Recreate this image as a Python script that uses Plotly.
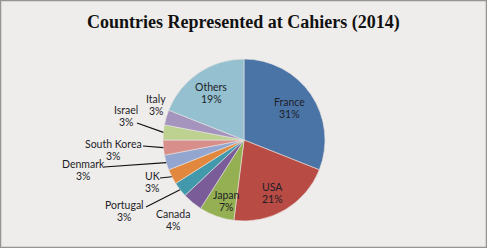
import math
import plotly.graph_objects as go

countries = ["France", "USA", "Japan", "Canada", "Portugal", "UK", "Denmark",
             "South Korea", "Israel", "Italy", "Others"]
shares = [31, 21, 7, 4, 3, 3, 3, 3, 3, 3, 19]
colors = ["#4A74A6", "#B84B44", "#94B052", "#7A5D98", "#4399AC", "#E2883E",
          "#93A6D0", "#D88E8B", "#BDD291", "#A594BD", "#94C0CF"]

W, H = 487, 248
CX, CY, R = 244, 140, 81

# label placement (pixel): (x, y of first line, leader start or None)
label_pos = {
    "France": (289, 102, None),
    "USA": (272, 187, None),
    "Japan": (226, 195, None),
    "Canada": (173, 214, None),
    "Portugal": (125, 205, (146, 207)),
    "UK": (152, 176, (160, 178)),
    "Denmark": (83, 164, (104, 167)),
    "South Korea": (113, 144, (143, 146)),
    "Israel": (126, 110, (137, 123)),
    "Italy": (156, 99, None),
    "Others": (211, 87, None),
}
LINE_GAP = 12

fig = go.Figure(go.Pie(
    labels=countries, values=shares, sort=False, direction="clockwise",
    rotation=0, textinfo="none", hoverinfo="label+percent",
    marker=dict(colors=colors, line=dict(color="#E8E4E0", width=0.6)),
    domain=dict(x=[(CX - R) / W, (CX + R) / W],
                y=[1 - (CY + R) / H, 1 - (CY - R) / H]),
    showlegend=False,
))

font = dict(family="Lato, Open Sans, sans-serif", size=10.5, color="#1E1E28")
total = sum(shares)
cum = 0
annotations = []
shapes = []
for name, v in zip(countries, shares):
    mid = (cum + v / 2) / total * 2 * math.pi
    cum += v
    lx, ly, lead = label_pos[name]
    pct = f"{round(v / total * 100)}%"
    for i, line in enumerate([name, pct]):
        annotations.append(dict(
            x=lx / W, y=1 - (ly + i * LINE_GAP) / H, xref="paper", yref="paper",
            text=line, showarrow=False, font=font, borderpad=0,
            xanchor="center", yanchor="middle",
        ))
    if lead:
        ex = CX + R * math.sin(mid)
        ey = CY - R * math.cos(mid)
        shapes.append(dict(type="line", xref="paper", yref="paper",
                           x0=lead[0] / W, y0=1 - lead[1] / H,
                           x1=ex / W, y1=1 - ey / H,
                           line=dict(color="#111111", width=1.1)))

shapes.append(dict(type="rect", xref="paper", yref="paper",
                   x0=0, y0=0, x1=1, y1=1,
                   line=dict(color="#959595", width=2.5)))

annotations.append(dict(
    x=0.5, y=1 - 22 / H, xref="paper", yref="paper",
    text="<b>Countries Represented at Cahiers (2014)</b>", showarrow=False,
    font=dict(family="Liberation Serif, Times New Roman, serif", size=18, color="#111111"),
    xanchor="center", yanchor="middle",
))

fig.update_layout(
    width=W, height=H, margin=dict(l=0, r=0, t=0, b=0),
    paper_bgcolor="#EFEDEB", plot_bgcolor="#EFEDEB",
    annotations=annotations, shapes=shapes,
)

fig.write_html("out.html")
